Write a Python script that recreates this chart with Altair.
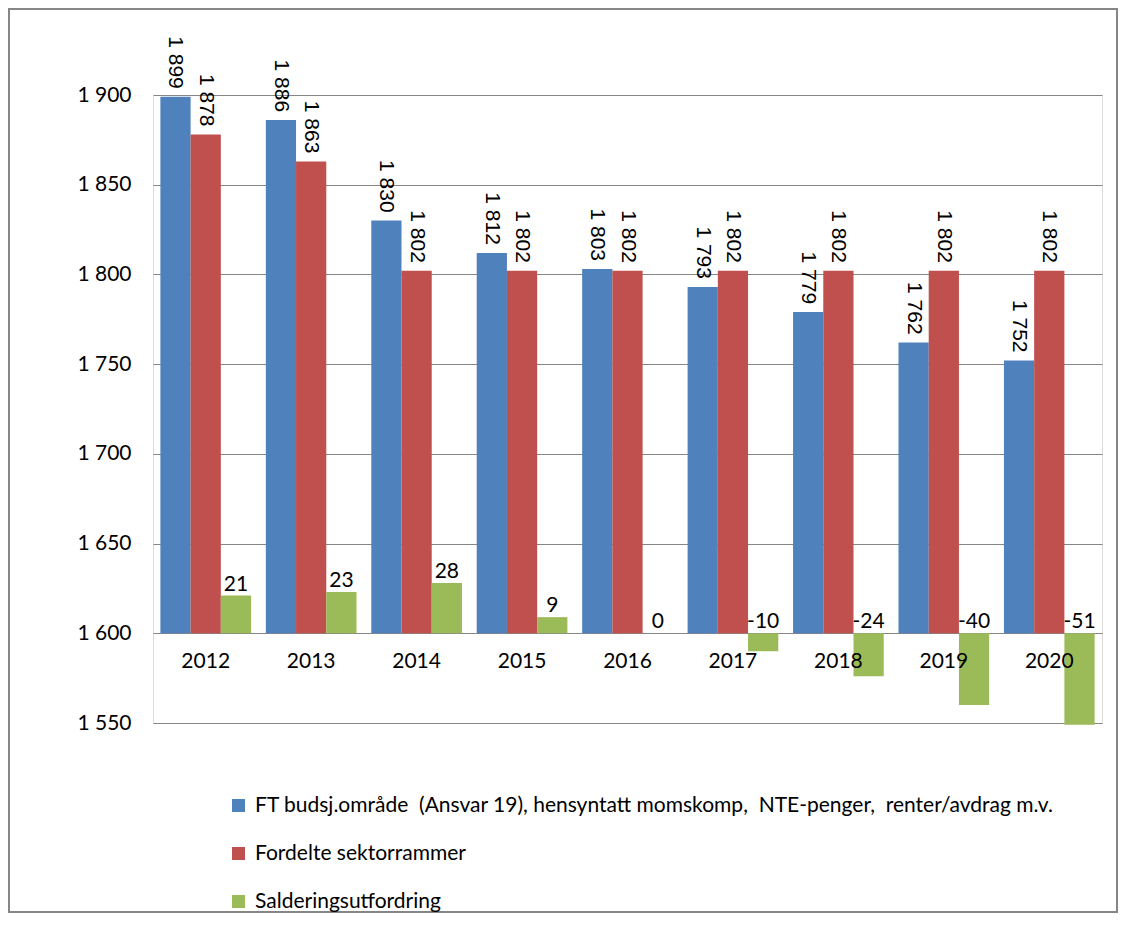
import altair as alt
import pandas as pd

years = ["2012", "2013", "2014", "2015", "2016", "2017", "2018", "2019", "2020"]
ft_values = [1899, 1886, 1830, 1812, 1803, 1793, 1779, 1762, 1752]
sektor_values = [1878, 1863, 1802, 1802, 1802, 1802, 1802, 1802, 1802]
saldering_values = [21, 23, 28, 9, 0, -10, -24, -40, -51]
series_names = [
    "FT budsj.område \u00a0(Ansvar 19), hensyntatt momskomp, \u00a0NTE-penger, \u00a0renter/avdrag m.v.",
    "Fordelte sektorrammer",
    "Salderingsutfordring",
]
colors = ["#4F81BD", "#C0504D", "#9BBB59"]
axis_cross = 1600
y_ticks = [1550, 1600, 1650, 1700, 1750, 1800, 1850, 1900]


def fmt(v):
    return f"{v:,}".replace(",", " ")


rows = []
for i, yr in enumerate(years):
    rows.append({"year": yr, "series": series_names[0], "top": ft_values[i],
                 "base": axis_cross, "label": fmt(ft_values[i]), "ly": ft_values[i]})
    rows.append({"year": yr, "series": series_names[1], "top": sektor_values[i],
                 "base": axis_cross, "label": fmt(sektor_values[i]), "ly": sektor_values[i]})
    s = saldering_values[i]
    rows.append({"year": yr, "series": series_names[2], "top": axis_cross + s,
                 "base": axis_cross, "label": str(s), "ly": axis_cross + max(s, 0)})
df = pd.DataFrame(rows)

x_enc = alt.X(
    "year:N",
    sort=years,
    scale=alt.Scale(paddingInner=0.14, paddingOuter=0.07),
    axis=alt.Axis(
        orient="bottom", offset=-90, domain=False, ticks=False, grid=False,
        labelPadding=17, labelFont="Lato", labelFontSize=21, labelColor="black",
        labelAngle=0, title=None, zindex=1,
    ),
)
xoff_enc = alt.XOffset("series:N", sort=series_names,
                       scale=alt.Scale(domain=series_names, paddingInner=0, paddingOuter=0))

base = alt.Chart(df)

bars = base.mark_bar().encode(
    x=x_enc,
    xOffset=xoff_enc,
    y=alt.Y(
        "top:Q",
        scale=alt.Scale(domain=[1550, 1900], nice=False, zero=False),
        axis=alt.Axis(
            values=y_ticks, domain=False, ticks=False, labelPadding=22,
            gridColor="#868686", gridWidth=1, labelFont="Lato", labelFontSize=21,
            labelColor="black",
            labelExpr="replace(format(datum.value, ','), ',', ' ')", title=None,
        ),
    ),
    y2="base:Q",
    color=alt.Color(
        "series:N",
        scale=alt.Scale(domain=series_names, range=colors),
        legend=alt.Legend(
            orient="none", legendX=75, legendY=700, direction="vertical",
            title=None, symbolType="square", symbolSize=169, symbolStrokeWidth=0,
            labelFont="Lato", labelFontSize=21, labelColor="black", labelOffset=6,
            rowPadding=26, labelLimit=1000, padding=0,
        ),
    ),
)

rot_labels = base.transform_filter(
    alt.FieldOneOfPredicate(field="series", oneOf=series_names[:2])
).mark_text(
    angle=90, align="right", baseline="middle", dx=-8,
    font="Liberation Sans", fontSize=21, color="black",
).encode(x=x_enc, xOffset=xoff_enc, y="ly:Q", text="label:N")

green_labels = base.transform_filter(
    alt.FieldEqualPredicate(field="series", equal=series_names[2])
).mark_text(
    align="center", baseline="bottom", dy=-1,
    font="Lato", fontSize=21, color="black",
).encode(x=x_enc, xOffset=xoff_enc, y="ly:Q", text="label:N")

frame = alt.Chart(alt.Data(values=[{"f": 1}])).mark_rect(
    filled=False, stroke="#868686", strokeWidth=2
).encode(
    x=alt.value(-144), x2=alt.value(964), y=alt.value(-86), y2=alt.value(817)
)

chart = alt.layer(bars, rot_labels, green_labels, frame).properties(
    width=949,
    height=628,
    autosize=alt.AutoSizeParams(type="none"),
    padding={"left": 145, "top": 87, "right": 16, "bottom": 190},
).configure_view(stroke=None).configure(background="white")

chart.save("out.html", embed_options={"renderer": "svg", "actions": False})
